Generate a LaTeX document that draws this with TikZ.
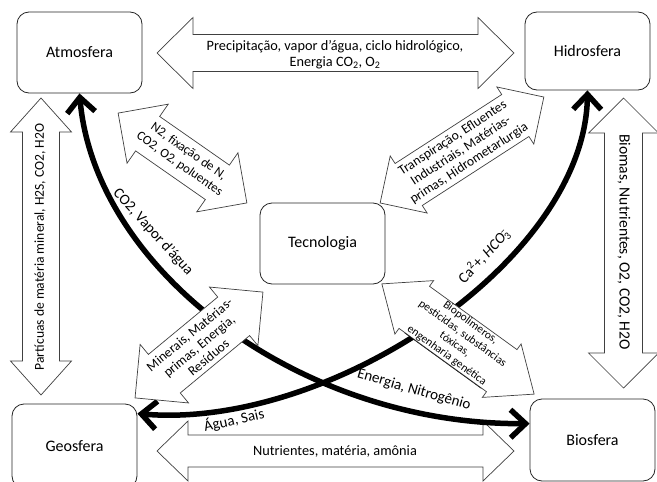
\documentclass[tikz,border=0pt]{standalone}
\usepackage{fontspec}
\setmainfont{Carlito}
\usetikzlibrary{arrows.meta}
% center x, center y, angle, length, shaft half width, head half width, head length
\newcommand{\dblarr}[7]{%
  \begin{scope}[shift={(#1,#2)},rotate=#3]
    \draw[arrshape] (-#4/2,0) -- (-#4/2+#7,#6) -- (-#4/2+#7,#5) -- (#4/2-#7,#5) -- (#4/2-#7,#6) -- (#4/2,0)
      -- (#4/2-#7,-#6) -- (#4/2-#7,-#5) -- (-#4/2+#7,-#5) -- (-#4/2+#7,-#6) -- cycle;
  \end{scope}}
\begin{document}
\begin{tikzpicture}[x=1pt,y=-1pt,
  box/.style={draw=black!85, line width=0.8pt, rounded corners=12pt, minimum width=125pt, inner sep=0pt,
    font=\fontsize{16}{19}\selectfont},
  arrshape/.style={draw=black!75, line width=0.7pt, fill=white, line join=miter},
  flow/.style={line width=5.5pt, {Straight Barb[length=15pt,width=28pt]}-{Straight Barb[length=15pt,width=28pt]}},
  lbl/.style={font=\fontsize{14.3}{16}\selectfont, align=center, inner sep=0pt},
  small/.style={font=\fontsize{13.5}{15}\selectfont, align=center, inner sep=0pt},
  tiny/.style={font=\fontsize{11.5}{13.5}\selectfont, align=center, inner sep=0pt},
  big/.style={font=\fontsize{15}{18}\selectfont, align=center, inner sep=0pt}]
\useasboundingbox (0,0) rectangle (657,482);
\fill[white] (0,0) rectangle (657,482);

% boxes
\node[box, minimum height=81pt] (atm) at (79.5,52.5) {Atmosfera};
\node[box, minimum height=78pt] (hid) at (587.5,51) {Hidrosfera};
\node[box, minimum height=81pt] (tec) at (322.5,243.5) {Tecnologia};
\node[box, minimum height=84pt] (geo) at (74.5,446) {Geosfera};
\node[box, minimum height=82pt] (bio) at (592.5,440) {Biosfera};

% straight double arrows
\dblarr{335.5}{53}{0}{357}{18.5}{35.5}{36}
\dblarr{335.5}{451}{0}{357}{16}{30}{31}
\dblarr{41}{246.5}{90}{297}{18.5}{30.5}{34}
\dblarr{623.5}{243}{90}{290}{19}{35}{35}
\dblarr{182.5}{158}{-34.9}{157}{21}{36}{36}
\dblarr{462}{150}{32.9}{195}{25}{34}{34}

% thick curved flows
\draw[flow] (atm.south) .. controls (95,270) and (300,425) .. ([yshift=-25pt]bio.north west);
\draw[flow] (hid.south) .. controls (585,260) and (330,430) .. ([yshift=-10pt]geo.north east);

% arrows drawn over the flows
\dblarr{199}{345}{39.6}{166}{25}{38}{38}
\dblarr{458}{339}{-35.9}{188}{26}{33}{40}

% texts of the arrows
\node[lbl] (ttop) at (335,55) {Precipitação, vapor d’água, ciclo hidrológico,\\Energia CO\textsubscript{2}, O\textsubscript{2}};
\node[lbl] (tbot) at (335,451) {Nutrientes, matéria, amônia};
\node[lbl, font=\fontsize{13.6}{16}\selectfont, rotate=90] (tleft) at (40,247) {Partícuas de matéria mineral, H2S, CO2, H2O};
\node[big, font=\fontsize{15.6}{18}\selectfont, rotate=-90] (tright) at (624,242) {Biomas, Nutrientes, O2, CO2, H2O};
\node[small, font=\fontsize{13}{15.5}\selectfont, rotate=-35] (tn2) at (184,158) {N2, fixação de N,\\CO2, O2, poluentes};
\node[small, rotate=33] (ttra) at (461,151) {Transpiração, Efluentes\\Industriais, Matérias-\\primas, Hidrometarlurgia};
\node[small, rotate=39.6] (tmin) at (199,346) {Minerais, Matérias-\\primas, Energia,\\Resíduos};
\node[tiny, rotate=-35.9] (tbiop) at (458,340) {Biopolimeros,\\pesticidas, substâncias\\tóxicas,\\\underline{engenharia genética}};

% texts of the flows
\node[big, rotate=-48] (lco2) at (153,232) {CO2, Vapor d’água};
\node[big, rotate=-16] (lene) at (414,390) {Energia, Nitrogênio};
\node[big, rotate=13] (lagua) at (234,420) {Água, Sais};
\node[big, rotate=47] (lca) at (484,256) {Ca\textsuperscript{2}+, \textit{HCO}\rlap{\textsuperscript{--}}\textsubscript{3}};
\end{tikzpicture}
\end{document}
